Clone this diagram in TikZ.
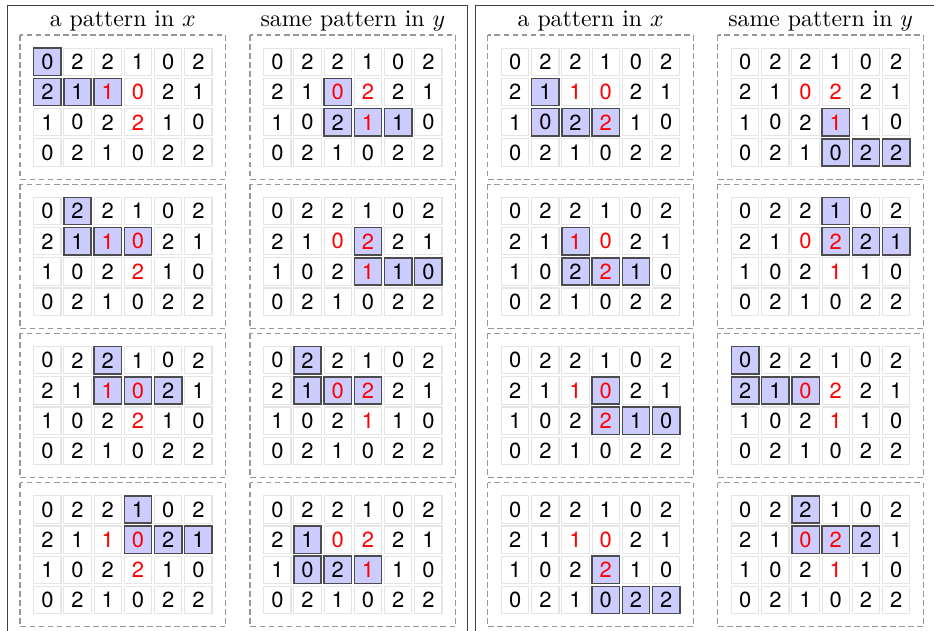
\documentclass[tikz,border=0pt]{standalone}
\usepackage{fontspec}
\newfontfamily\herosfont{TeX Gyre Heros}
\newcommand\digitfont{\fontsize{9.2}{11}\selectfont\herosfont}
\tikzset{
  cellbox/.style={draw=black!10, line width=0.45pt, minimum size=11.47pt, inner sep=0pt, font=\digitfont},
  hlbox/.style={fill=blue!20, draw=black!70, line width=0.6pt},
  dbox/.style={draw=black!40, dash pattern=on 2.4pt off 1.4pt, line width=0.45pt},
  panelbox/.style={draw=black!75, line width=0.65pt},
  hdr/.style={font=\fontsize{10}{12}\selectfont, anchor=base, inner sep=0pt}
}
\def\HR{{1,1,1,1, 2,2,1,2, 2,2,2,3, 3,1,1,1}}
\def\HC{{1,2,3,4, 3,4,2,2, 2,3,4,4, 4,4,1,3}}
\def\GX{{0,2,2,1,0,2, 2,1,1,0,2,1, 1,0,2,2,1,0, 0,2,1,0,2,2}}
\def\GY{{0,2,2,1,0,2, 2,1,0,2,2,1, 1,0,2,1,1,0, 0,2,1,0,2,2}}
\begin{document}
\begin{tikzpicture}[x=0.42pt,y=-0.42pt]
\useasboundingbox (0,0) rectangle (934,630);
\clip (0,0) rectangle (934,630);
\foreach \p in {0,1}{
  \pgfmathsetmacro\ox{7.5+\p*467.8}
  \draw[panelbox] (\ox,5.3) rectangle ++(459.8,640);
  \foreach \k in {0,1}{
    \pgfmathsetmacro\bx{\ox+12.5+\k*230}
    \ifnum\k=0
      \node[hdr] (h\p\k) at (\bx+102.85,26.5) {a pattern in $x$};
    \else
      \node[hdr] (h\p\k) at (\bx+102.85,26.5) {same pattern in $y$};
    \fi
    \foreach \b in {0,...,3}{
      \pgfmathsetmacro\by{35+\b*149.2}
      \draw[dbox] (\bx,\by) rectangle ++(205.7,144.3);
      \pgfmathtruncatemacro\qq{(\p*2+\k)*4+\b}
      \pgfmathtruncatemacro\hr{\HR[\qq]}
      \pgfmathtruncatemacro\hc{\HC[\qq]}
      \foreach \i in {1,...,4}{
        \foreach \j in {1,...,6}{
          \pgfmathtruncatemacro\idx{(\i-1)*6+\j-1}
          \ifnum\k=0
            \pgfmathtruncatemacro\v{\GX[\idx]}
          \else
            \pgfmathtruncatemacro\v{\GY[\idx]}
          \fi
          \pgfmathtruncatemacro\hl{((\i==\hr) && (\j==\hc)) || ((\i==\hr+1) && (\j>=\hc) && (\j<=\hc+2))}
          \pgfmathtruncatemacro\rd{((\i==2) && ((\j==3) || (\j==4))) || ((\i==3) && (\j==4))}
          \ifnum\hl=1 \def\hs{hlbox}\else\def\hs{}\fi
          \ifnum\rd=1 \def\tc{red}\else\def\tc{black}\fi
          \node[cellbox,\hs,text=\tc] (c\p\k\b-\i-\j) at (\bx+27.35+\j*30.2-30.2,\by+26.85+\i*30.2-30.2) {\v};
        }
      }
    }
  }
}
\end{tikzpicture}
\end{document}
